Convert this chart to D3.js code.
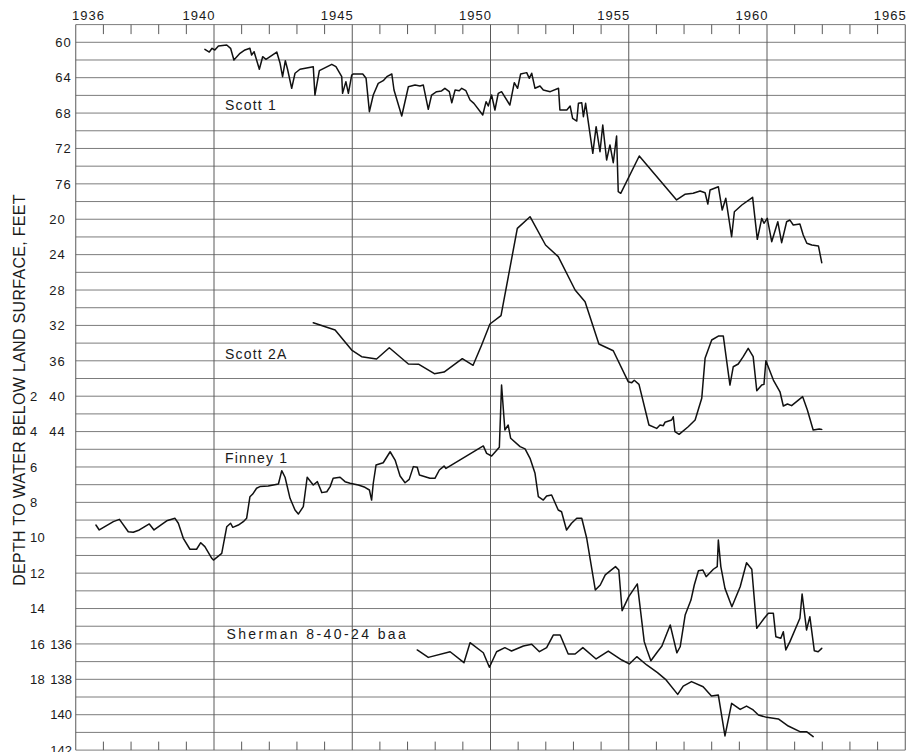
<!DOCTYPE html>
<html>
<head>
<meta charset="utf-8">
<script src="https://cdn.jsdelivr.net/npm/d3@7"></script>
<style>
  html, body { margin: 0; padding: 0; background: #ffffff; }
  svg { display: block; }
  text { font-family: "Liberation Sans", Arial, sans-serif; fill: #1a1a1a; }
</style>
</head>
<body>
<svg id="chart" width="907" height="752"></svg>
<script>
// ---------------- DATA ----------------
const yearLabels = [1936, 1940, 1945, 1950, 1955, 1960, 1965];
const majorYears = [1940, 1945, 1950, 1955, 1960];
const scott1Ticks = [60, 64, 68, 72, 76];
const scott2ATicks = [20, 24, 28, 32, 36, 40, 44];
const finneyTicks = [2, 4, 6, 8, 10, 12, 14, 16, 18];
const shermanTicks = [136, 138, 140, 142];
const seriesNames = ["Scott 1", "Scott 2A", "Finney 1", "Sherman 8-40-24 baa"];
const yTitle = "DEPTH TO WATER BELOW LAND SURFACE, FEET";

// [year, depth below land surface (ft)]
const scott1 = [
  [1939.67,60.79],[1939.83,61.10],[1939.93,60.68],[1940.03,60.87],[1940.16,60.42],[1940.46,60.30],
  [1940.60,60.68],[1940.72,62.00],[1940.94,61.25],[1941.12,60.87],[1941.30,60.68],[1941.36,61.44],
  [1941.45,61.06],[1941.64,63.05],[1941.76,61.63],[1941.88,61.92],[1942.27,61.10],[1942.39,62.37],
  [1942.48,63.89],[1942.58,62.08],[1942.66,63.05],[1942.81,65.20],[1942.93,63.50],[1943.11,63.05],
  [1943.59,62.76],[1943.65,65.96],[1943.81,63.21],[1944.26,62.49],[1944.41,62.76],[1944.62,63.89],
  [1944.65,65.77],[1944.77,64.45],[1944.86,65.77],[1944.98,63.70],[1945.04,63.58],[1945.38,63.58],
  [1945.50,64.07],[1945.62,67.84],[1945.76,65.96],[1945.94,64.64],[1946.12,64.34],[1946.25,63.89],
  [1946.43,63.58],[1946.51,65.39],[1946.79,68.33],[1947.03,65.02],[1947.27,64.83],[1947.45,64.94],
  [1947.57,64.83],[1947.75,67.58],[1947.87,65.96],[1948.05,65.58],[1948.23,65.50],[1948.35,65.20],
  [1948.51,65.58],[1948.60,66.83],[1948.72,65.39],[1948.87,65.47],[1948.96,65.20],[1949.11,65.47],
  [1949.26,66.52],[1949.40,66.90],[1949.72,68.22],[1949.84,66.71],[1949.92,67.20],[1950.04,65.96],
  [1950.16,67.65],[1950.28,65.77],[1950.40,65.58],[1950.70,67.09],[1950.86,64.57],[1950.98,65.20],
  [1951.09,63.58],[1951.31,63.43],[1951.40,64.07],[1951.49,63.50],[1951.61,65.20],[1951.79,64.94],
  [1951.91,65.39],[1952.16,65.58],[1952.46,65.20],[1952.51,67.65],[1952.76,67.65],[1952.88,67.20],
  [1952.97,68.60],[1953.12,68.90],[1953.18,66.90],[1953.30,66.83],[1953.36,68.41],[1953.44,66.90],
  [1953.70,72.55],[1953.82,69.54],[1953.96,72.37],[1954.06,69.35],[1954.20,73.30],[1954.32,71.60],
  [1954.44,73.61],[1954.56,70.59],[1954.62,76.89],[1954.71,77.07],[1955.38,72.85],[1956.73,77.82],
  [1957.03,77.18],[1957.33,77.07],[1957.58,76.81],[1957.76,77.00],[1957.86,78.28],[1957.94,76.70],
  [1958.24,76.32],[1958.38,78.96],[1958.51,77.63],[1958.72,81.97],[1958.82,79.15],[1959.09,78.39],
  [1959.48,77.52],[1959.65,82.27],[1959.81,79.90],[1959.89,80.46],[1960.01,79.90],[1960.17,82.54],
  [1960.39,80.28],[1960.53,82.65],[1960.71,80.28],[1960.83,80.09],[1960.95,80.65],[1961.19,80.54],
  [1961.31,81.78],[1961.44,82.72],[1961.62,82.91],[1961.86,83.02],[1961.98,84.91]
];

const scott2A = [
  [1943.59,31.69],[1944.38,32.52],[1944.98,34.78],[1945.34,35.53],[1945.88,35.80],[1946.34,34.52],
  [1947.03,36.36],[1947.41,36.40],[1947.97,37.46],[1948.32,37.27],[1948.98,35.76],[1949.37,36.51],
  [1949.68,34.21],[1949.98,31.84],[1950.38,30.90],[1950.97,21.03],[1951.43,19.71],[1951.99,22.91],
  [1952.45,24.23],[1953.06,28.00],[1953.42,29.32],[1953.92,34.10],[1954.44,34.86],[1954.98,38.36],
  [1955.11,38.47],[1955.20,38.20],[1955.37,38.66],[1955.73,43.26],[1956.01,43.64],[1956.13,43.26],
  [1956.25,43.33],[1956.31,42.95],[1956.55,42.69],[1956.61,42.32],[1956.67,44.01],[1956.82,44.31],
  [1957.15,43.45],[1957.40,42.69],[1957.64,40.24],[1957.76,35.72],[1958.00,33.65],[1958.24,33.20],
  [1958.42,33.20],[1958.66,38.74],[1958.78,36.67],[1958.96,36.36],[1959.14,35.53],[1959.32,34.59],
  [1959.50,35.53],[1959.63,39.38],[1959.81,38.74],[1959.89,38.66],[1959.96,35.99],[1960.23,38.17],
  [1960.47,39.50],[1960.59,41.11],[1960.74,40.88],[1960.89,41.07],[1961.29,40.05],[1961.46,41.56],
  [1961.67,43.82],[1961.89,43.71],[1961.98,43.75]
];

const finney1 = [
  [1935.73,9.28],[1935.85,9.56],[1936.36,9.09],[1936.58,8.96],[1936.90,9.66],[1937.08,9.69],
  [1937.30,9.56],[1937.66,9.22],[1937.83,9.56],[1938.29,9.04],[1938.59,8.90],[1938.71,9.18],
  [1938.89,10.03],[1939.13,10.65],[1939.37,10.65],[1939.52,10.28],[1939.67,10.50],[1939.92,11.16],
  [1939.98,11.26],[1940.28,10.88],[1940.46,9.38],[1940.60,9.18],[1940.68,9.41],[1940.88,9.28],
  [1941.06,9.09],[1941.18,8.90],[1941.30,7.68],[1941.40,7.53],[1941.54,7.20],[1941.66,7.11],
  [1941.96,7.08],[1942.33,6.96],[1942.45,6.21],[1942.57,6.58],[1942.75,7.77],[1942.93,8.43],
  [1943.05,8.66],[1943.23,8.24],[1943.37,6.58],[1943.59,7.02],[1943.74,6.83],[1943.90,7.45],
  [1944.08,7.40],[1944.20,7.11],[1944.31,6.64],[1944.56,6.58],[1944.74,6.83],[1944.92,6.92],
  [1945.22,7.02],[1945.46,7.15],[1945.62,7.30],[1945.70,7.87],[1945.76,6.92],[1945.86,5.89],
  [1946.12,5.76],[1946.37,5.14],[1946.55,5.61],[1946.73,6.51],[1946.91,6.89],[1947.06,6.70],
  [1947.21,5.98],[1947.35,6.02],[1947.43,6.45],[1947.81,6.64],[1947.99,6.64],[1948.15,6.17],
  [1948.32,5.95],[1948.39,6.08],[1949.74,4.81],[1949.86,5.23],[1950.04,5.38],[1950.32,4.89],
  [1950.40,1.37],[1950.52,3.91],[1950.64,3.63],[1950.73,4.38],[1951.07,4.85],[1951.25,4.98],
  [1951.43,5.51],[1951.61,6.36],[1951.73,7.68],[1951.91,7.87],[1952.03,7.64],[1952.21,7.58],
  [1952.45,8.43],[1952.57,8.53],[1952.75,9.56],[1952.93,9.18],[1953.12,8.90],[1953.30,8.90],
  [1953.48,10.03],[1953.79,12.95],[1953.97,12.67],[1954.15,12.10],[1954.52,11.63],[1954.64,11.82],
  [1954.76,14.12],[1955.00,13.33],[1955.31,12.61],[1955.56,15.87],[1955.66,16.34],[1955.80,16.95],
  [1956.04,16.44],[1956.20,16.12],[1956.38,15.40],[1956.50,14.93],[1956.60,15.59],[1956.74,16.50],
  [1956.86,16.16],[1957.04,14.37],[1957.25,13.52],[1957.37,12.67],[1957.52,11.86],[1957.68,11.82],
  [1957.80,12.20],[1958.06,11.78],[1958.20,11.63],[1958.24,10.13],[1958.33,11.63],[1958.48,12.86],
  [1958.73,13.90],[1959.03,12.77],[1959.26,11.41],[1959.45,11.78],[1959.63,15.12],[1959.90,14.55],
  [1960.05,14.27],[1960.23,14.27],[1960.32,15.59],[1960.50,15.68],[1960.59,15.31],[1960.68,16.34],
  [1960.83,15.87],[1961.19,14.55],[1961.27,13.18],[1961.43,15.21],[1961.55,14.46],[1961.71,16.38],
  [1961.85,16.44],[1961.98,16.25]
];

const sherman = [
  [1947.35,136.34],[1947.75,136.76],[1948.54,136.44],[1949.04,137.06],[1949.26,135.93],[1949.74,136.50],
  [1949.96,137.32],[1950.22,136.44],[1950.52,136.21],[1950.76,136.40],[1951.19,136.12],[1951.49,136.02],
  [1951.77,136.44],[1952.03,136.21],[1952.27,135.50],[1952.52,135.50],[1952.81,136.57],[1953.06,136.57],
  [1953.34,136.21],[1953.82,136.85],[1954.26,136.40],[1954.75,136.91],[1955.02,137.13],[1955.29,136.72],
  [1955.65,137.19],[1956.04,137.62],[1956.33,138.00],[1956.77,138.85],[1956.97,138.38],[1957.27,138.13],
  [1957.69,138.42],[1957.99,138.94],[1958.24,138.89],[1958.48,141.20],[1958.72,139.36],[1959.03,139.70],
  [1959.26,139.51],[1959.50,139.73],[1959.69,140.02],[1959.99,140.15],[1960.41,140.24],[1960.77,140.64],
  [1961.19,140.96],[1961.43,140.96],[1961.67,141.24]
];

// ---------------- SCALES ----------------
const plotTop = 24.6, plotBottom = 750.1;
const x = d3.scaleLinear().domain([1935, 1965]).range([75.75, 905.25]);
const row = d3.scaleLinear().domain([-0.5, 20]).range([plotTop, plotBottom]);
const yScott1  = d3.scaleLinear().domain([58, 140]).range([plotTop, plotBottom]);
const yScott2A = d3.scaleLinear().domain([-2, 80]).range([plotTop, plotBottom]);
const yFinney  = d3.scaleLinear().domain([-19, 22]).range([plotTop, plotBottom]);
const ySherman = d3.scaleLinear().domain([101, 142]).range([plotTop, plotBottom]);

const svg = d3.select("#chart");
svg.append("rect").attr("width", 907).attr("height", 752).attr("fill", "#ffffff");

// ---------------- GRID ----------------
const halfRows = d3.range(-0.5, 20.01, 0.5);
svg.append("g").selectAll("line").data(halfRows).join("line")
  .attr("x1", x(1935)).attr("x2", x(1965))
  .attr("y1", d => row(d)).attr("y2", d => row(d))
  .attr("stroke", "#7c7c7c").attr("stroke-width", 1);

svg.append("g").selectAll("line").data([1935, ...majorYears, 1965]).join("line")
  .attr("x1", d => x(d)).attr("x2", d => x(d))
  .attr("y1", plotTop).attr("y2", plotBottom)
  .attr("stroke", "#5a5a5a").attr("stroke-width", 1);

const minorYears = d3.range(1936, 1965).filter(yr => yr % 5 !== 0);
const tickG = svg.append("g").attr("stroke", "#5a5a5a").attr("stroke-width", 1);
tickG.selectAll("line.t").data(minorYears).join("line").attr("class", "t")
  .attr("x1", d => x(d)).attr("x2", d => x(d)).attr("y1", plotTop).attr("y2", plotTop + 9.5);
tickG.selectAll("line.b").data(minorYears).join("line").attr("class", "b")
  .attr("x1", d => x(d)).attr("x2", d => x(d)).attr("y1", plotBottom - 8.5).attr("y2", plotBottom);

// ---------------- AXIS LABELS ----------------
svg.append("g").selectAll("text").data(yearLabels).join("text")
  .attr("x", d => x(d) + 1.5).attr("y", 20)
  .attr("text-anchor", "end").attr("font-size", 13).attr("letter-spacing", 1)
  .text(d => d);

function tickCol(values, scale, xPos, anchor, ls) {
  svg.append("g").selectAll("text").data(values).join("text")
    .attr("x", xPos).attr("y", d => scale(d) + 4.7)
    .attr("text-anchor", anchor).attr("font-size", 13).attr("letter-spacing", ls)
    .text(d => d);
}
tickCol(scott1Ticks, yScott1, 72, "end", 1.2);
tickCol(scott2ATicks, yScott2A, 66, "end", 1.2);
tickCol(finneyTicks, yFinney, 30, "start", 0.3);
tickCol(shermanTicks, ySherman, 72, "end", 0);

svg.append("text")
  .attr("transform", "translate(25," + 390 + ") rotate(-90)")
  .attr("text-anchor", "middle").attr("font-size", 16).attr("letter-spacing", 0.3)
  .text(yTitle);

// ---------------- SERIES ----------------
const series = [
  { data: scott1,  y: yScott1 },
  { data: scott2A, y: yScott2A },
  { data: finney1, y: yFinney },
  { data: sherman, y: ySherman }
];
series.forEach(s => {
  const line = d3.line().x(d => x(d[0])).y(d => s.y(d[1]));
  svg.append("path").datum(s.data).attr("d", line)
    .attr("fill", "none").attr("stroke", "#111").attr("stroke-width", 1.5)
    .attr("stroke-linejoin", "round").attr("stroke-linecap", "round");
});

const labelPos = [
  { yr: 1940.4, s: yScott1,  v: 67.7, ls: 1.2 },
  { yr: 1940.4, s: yScott2A, v: 35.8, ls: 1.2 },
  { yr: 1940.4, s: yFinney,  v: 5.78, ls: 1.2 },
  { yr: 1940.45, s: ySherman, v: 135.7, ls: 2.4 }
];
svg.append("g").selectAll("text").data(seriesNames).join("text")
  .attr("x", (d, i) => x(labelPos[i].yr)).attr("y", (d, i) => labelPos[i].s(labelPos[i].v))
  .attr("font-size", 14).attr("letter-spacing", (d, i) => labelPos[i].ls)
  .text(d => d);
</script>
</body>
</html>
